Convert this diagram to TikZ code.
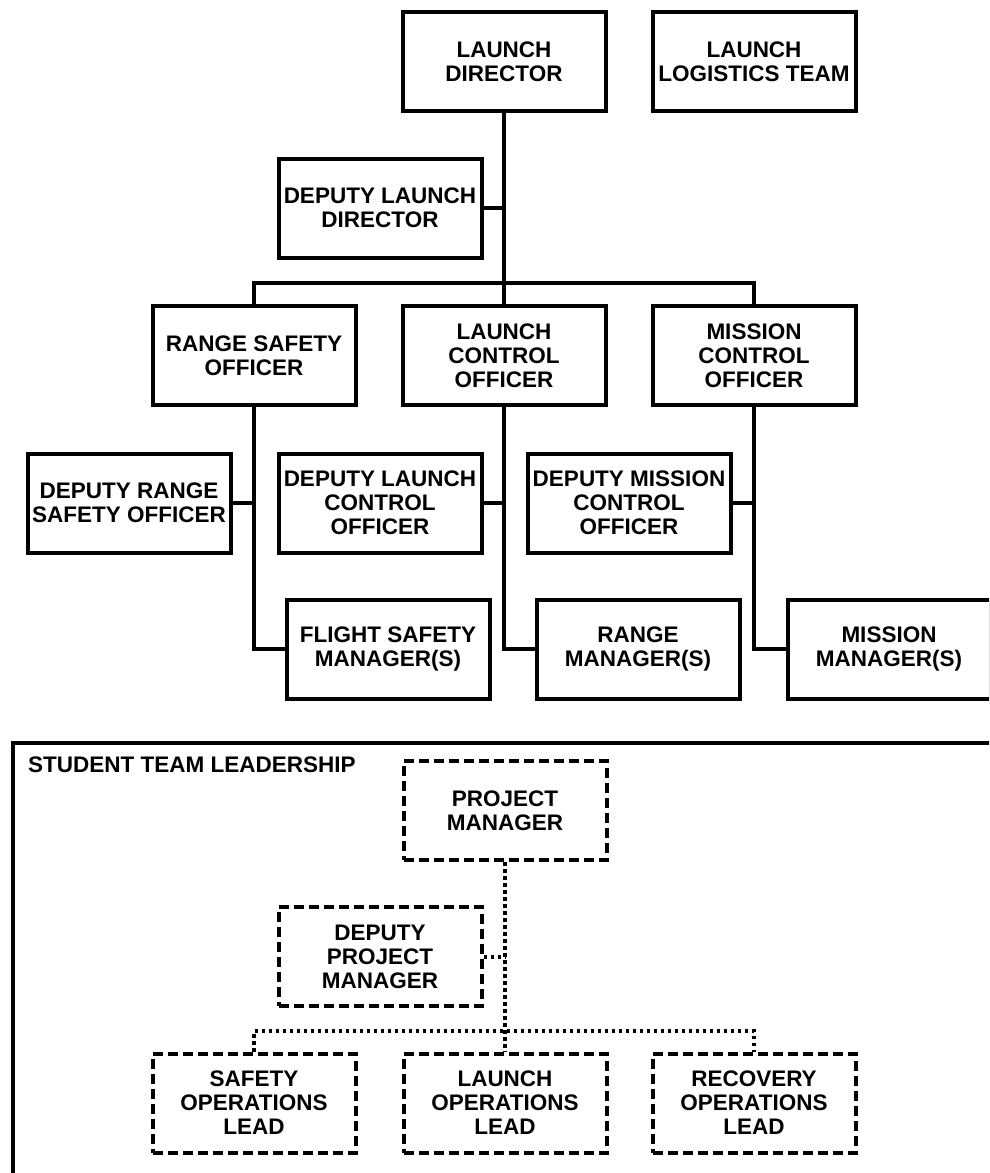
\documentclass[tikz,border=0pt]{standalone}
\usepackage{fontspec}
\setmainfont{Liberation Sans}
\newcommand\orgfont{\fontsize{22.5}{24}\selectfont\bfseries}
\begin{document}
\begin{tikzpicture}[x=1pt,y=-1pt,
  box/.style={draw, line width=4pt, minimum width=203pt, minimum height=99pt,
              inner sep=0pt, align=center, font=\orgfont},
  dbox/.style={box, dash pattern=on 10pt off 5pt},
  conn/.style={line width=4pt},
  dotconn/.style={line width=4pt, dash pattern=on 3.5pt off 3.5pt}]
\useasboundingbox (0,0) rectangle (989,1173);
\clip (0,0) rectangle (989,1173);

% --- top chart ---
\node[box] (ld)   at (504,61.5)  {LAUNCH\\DIRECTOR};
\node[box] (llt)  at (754,61.5)  {LAUNCH\\LOGISTICS TEAM};
\node[box] (dld)  at (380,208)   {DEPUTY LAUNCH\\DIRECTOR};
\node[box] (rso)  at (254,355.5) {RANGE SAFETY\\OFFICER};
\node[box] (lco)  at (504,355.5) {LAUNCH\\CONTROL\\OFFICER};
\node[box] (mco)  at (754,355.5) {MISSION\\CONTROL\\OFFICER};
\node[box] (drso) at (129,503)   {DEPUTY RANGE\\SAFETY OFFICER};
\node[box] (dlco) at (380,503)   {DEPUTY LAUNCH\\CONTROL\\OFFICER};
\node[box] (dmco) at (629,503)   {DEPUTY MISSION\\CONTROL\\OFFICER};
\node[box] (fsm)  at (388,649)   {FLIGHT SAFETY\\MANAGER(S)};
\node[box] (rm)   at (638,649)   {RANGE\\MANAGER(S)};
\node[box] (mm)   at (889,649)   {MISSION\\MANAGER(S)};

\coordinate (bar) at (504,283);
\draw[conn] (ld.south) -- (bar) -- (lco.north);
\draw[conn] (rso.north) |- (bar) -| (mco.north);
\draw[conn] (rso.south) |- (fsm.west);
\draw[conn] (lco.south) |- (rm.west);
\draw[conn] (mco.south) |- (mm.west);
\draw[conn] (dld.east) -- (dld.east -| ld.south);
\draw[conn] (drso.east) -- (drso.east -| rso.south);
\draw[conn] (dlco.east) -- (dlco.east -| lco.south);
\draw[conn] (dmco.east) -- (dmco.east -| mco.south);

% --- student team leadership ---
\draw[conn] (13,743) rectangle (1010,1200);
\node[anchor=base west, inner sep=0pt, font=\orgfont] (stl) at (28,772) {STUDENT TEAM LEADERSHIP};

\node[dbox] (pm)  at (505,810.5) {PROJECT\\MANAGER};
\node[dbox] (dpm) at (380,956.5) {DEPUTY\\PROJECT\\MANAGER};
\node[dbox] (sol) at (254,1103)  {SAFETY\\OPERATIONS\\LEAD};
\node[dbox] (lol) at (505,1103)  {LAUNCH\\OPERATIONS\\LEAD};
\node[dbox] (rol) at (754,1103)  {RECOVERY\\OPERATIONS\\LEAD};

\coordinate (bar2) at (505,1031);
\draw[dotconn] (pm.south) -- (lol.north);
\draw[dotconn] (sol.north) |- (bar2) -| (rol.north);
\draw[dotconn] (dpm.east) -- (dpm.east -| pm.south);
\end{tikzpicture}
\end{document}
